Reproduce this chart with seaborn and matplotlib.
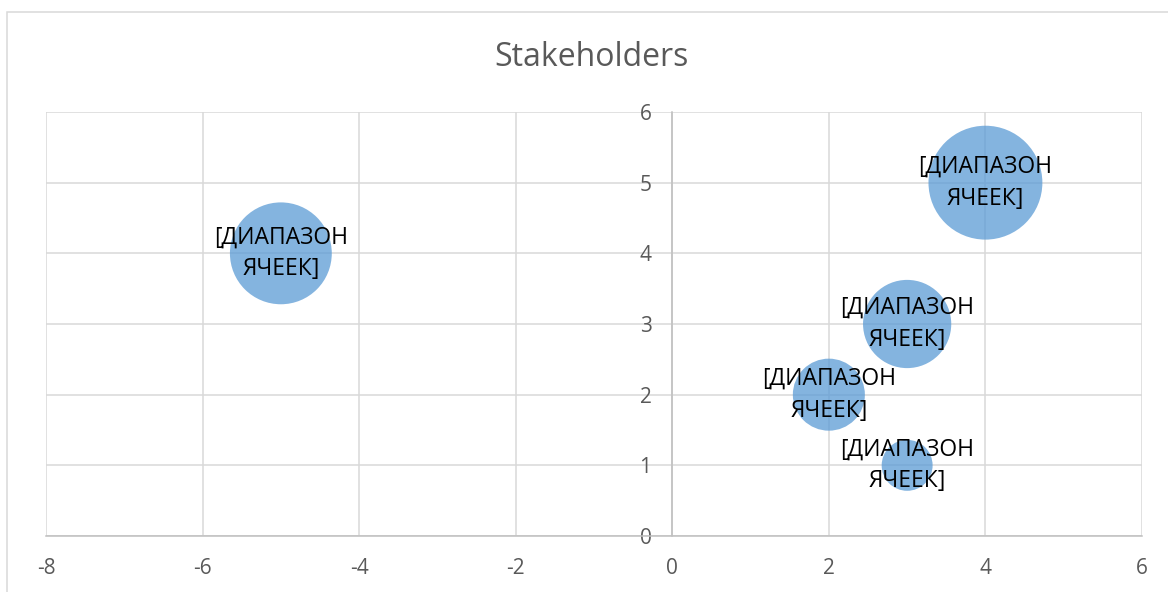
import matplotlib
matplotlib.use("Agg")
import matplotlib.pyplot as plt
import seaborn as sns
import pandas as pd
from matplotlib.patches import Rectangle

# Data
x_vals = [-5, 4, 3, 2, 3]
y_vals = [4, 5, 3, 2, 1]
bubble_sizes = [4, 5, 3, 2, 1]
labels = ["[ДИАПАЗОН\nЯЧЕЕК]"] * 5
title = "Stakeholders"
x_ticks = [-8, -6, -4, -2, 0, 2, 4, 6]
y_ticks = [0, 1, 2, 3, 4, 5, 6]

sns.set_theme(style="white")
plt.rcParams['font.family'] = ['Open Sans', 'DejaVu Sans']

df = pd.DataFrame({"x": x_vals, "y": y_vals, "size": bubble_sizes})

fig = plt.figure(figsize=(11.68, 5.92), dpi=100)
ax = fig.add_axes([46/1168, 56/592, (1142-46)/1168, (536-112)/592])

sns.scatterplot(data=df, x="x", y="y", size="size", sizes=(0, 6724), size_norm=(0, 5),
                color="#5B9BD5", alpha=0.75, linewidth=0, legend=False, ax=ax, zorder=3)

for xi, yi, lab in zip(x_vals, y_vals, labels):
    ax.text(xi, yi, lab, ha="center", va="center", fontsize=16.5, color="black",
            linespacing=1.45, zorder=4)

ax.set_xlim(-8, 6)
ax.set_ylim(0, 6)
ax.set_xticks(x_ticks)
ax.set_yticks(y_ticks)
ax.set_xticklabels([str(v) for v in x_ticks])
ax.set_yticklabels([str(v) for v in y_ticks])
ax.grid(True, color="#D9D9D9", linewidth=1.1, zorder=0)
ax.set_axisbelow(True)
for s in ["top", "right"]:
    ax.spines[s].set_visible(False)
ax.spines["left"].set_position(("data", 0))
ax.spines["left"].set_color("#BFBFBF")
ax.spines["left"].set_linewidth(1.1)
ax.spines["bottom"].set_color("#BFBFBF")
ax.spines["bottom"].set_linewidth(1.1)
ax.tick_params(axis="both", length=0, labelsize=15, labelcolor="#595959")
ax.tick_params(axis="y", pad=15)
ax.tick_params(axis="x", pad=16)
ax.set_xlabel("")
ax.set_ylabel("")

fig.text(592/1168, 1 - 58/592, title, ha="center", va="center", fontsize=23, color="#595959")

fig.patches.append(Rectangle((7/1168, -0.5), 1.5, 1 - 12/592 + 0.5, transform=fig.transFigure,
                             fill=False, edgecolor="#D9D9D9", linewidth=1.1))

fig.savefig("out.png", dpi=100)
